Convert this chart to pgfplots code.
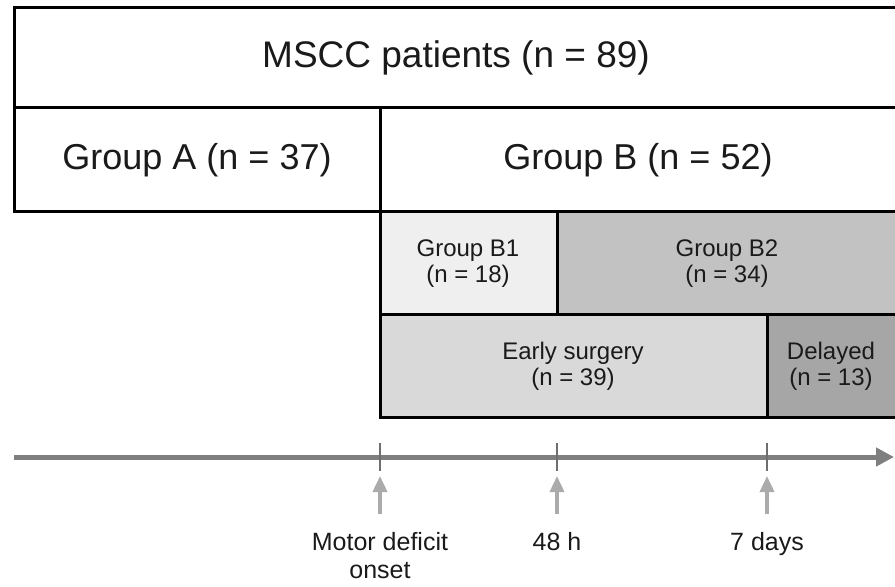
\documentclass[border=0pt]{standalone}
\usepackage{fontspec}
\setmainfont{Liberation Sans}
\usepackage{pgfplots}
\pgfplotsset{compat=1.18}
\usetikzlibrary{arrows.meta}
\definecolor{cB1}{HTML}{EFEFEF}
\definecolor{cB2}{HTML}{C2C2C2}
\definecolor{cEarly}{HTML}{D9D9D9}
\definecolor{cDel}{HTML}{A6A6A6}
\definecolor{cLine}{HTML}{7F7F7F}
\definecolor{cTick}{HTML}{6E6E6E}
\definecolor{cUp}{HTML}{ABABAB}
\definecolor{cTxt}{HTML}{1A1A1A}
\begin{document}
\begin{tikzpicture}
\begin{axis}[
  width=447.5pt, height=293pt, scale only axis,
  xmin=0, xmax=895, ymin=0, ymax=586, y dir=reverse,
  hide axis, clip=true, no markers,
  every axis plot/.append style={line join=miter},
]
\path (rel axis cs:0,0) rectangle (rel axis cs:1,1);
% boxes
\addplot[draw=black, line width=1.5pt, fill=white] coordinates {(14,7) (930,7) (930,107) (14,107)} -- cycle;
\addplot[draw=black, line width=1.5pt, fill=white] coordinates {(14,107) (380,107) (380,211) (14,211)} -- cycle;
\addplot[draw=black, line width=1.5pt, fill=white] coordinates {(380,107) (930,107) (930,211) (380,211)} -- cycle;
\addplot[draw=black, line width=1.5pt, fill=cB1] coordinates {(380,211) (557,211) (557,314) (380,314)} -- cycle;
\addplot[draw=black, line width=1.5pt, fill=cB2] coordinates {(557,211) (930,211) (930,314) (557,314)} -- cycle;
\addplot[draw=black, line width=1.5pt, fill=cEarly] coordinates {(380,314) (767,314) (767,417) (380,417)} -- cycle;
\addplot[draw=black, line width=1.5pt, fill=cDel] coordinates {(767,314) (930,314) (930,417) (767,417)} -- cycle;
% timeline
\addplot[draw=cLine, line width=2.5pt, -{Stealth[length=9pt,width=9pt,inset=0pt]}] coordinates {(14,457) (894,457)};
\addplot[draw=cTick, line width=1pt] coordinates {(380,443) (380,471)};
\addplot[draw=cTick, line width=1pt] coordinates {(557,443) (557,471)};
\addplot[draw=cTick, line width=1pt] coordinates {(767,443) (767,471)};
% up arrows
\addplot[draw=cUp, line width=1.8pt, -{Triangle[length=8pt,width=7pt]}] coordinates {(380,514) (380,476)};
\addplot[draw=cUp, line width=1.8pt, -{Triangle[length=8pt,width=7pt]}] coordinates {(557,514) (557,476)};
\addplot[draw=cUp, line width=1.8pt, -{Triangle[length=8pt,width=7pt]}] coordinates {(767,514) (767,476)};
% labels
\node[text=cTxt, font=\fontsize{18.5}{20}\selectfont] at (axis cs:456,58) {MSCC patients (n = 89)};
\node[text=cTxt, font=\fontsize{18}{20}\selectfont] at (axis cs:197,160) {Group A (n = 37)};
\node[text=cTxt, font=\fontsize{18}{20}\selectfont] at (axis cs:638,160) {Group B (n = 52)};
\node[text=cTxt, align=center, font=\fontsize{12}{13}\selectfont] at (axis cs:468,264) {Group B1\\(n = 18)};
\node[text=cTxt, align=center, font=\fontsize{12}{13}\selectfont] at (axis cs:727,264) {Group B2\\(n = 34)};
\node[text=cTxt, align=center, font=\fontsize{12}{13}\selectfont] at (axis cs:573,366) {Early surgery\\(n = 39)};
\node[text=cTxt, align=center, font=\fontsize{12}{13}\selectfont] at (axis cs:831,366) {Delayed\\(n = 13)};
\node[text=cTxt, align=center, font=\fontsize{12.5}{14}\selectfont, anchor=base] at (axis cs:380,578) {Motor deficit\\onset};
\node[text=cTxt, font=\fontsize{12.5}{14}\selectfont, anchor=base] at (axis cs:557,550) {48 h};
\node[text=cTxt, font=\fontsize{12.5}{14}\selectfont, anchor=base] at (axis cs:767,550) {7 days};
\end{axis}
\end{tikzpicture}
\end{document}
